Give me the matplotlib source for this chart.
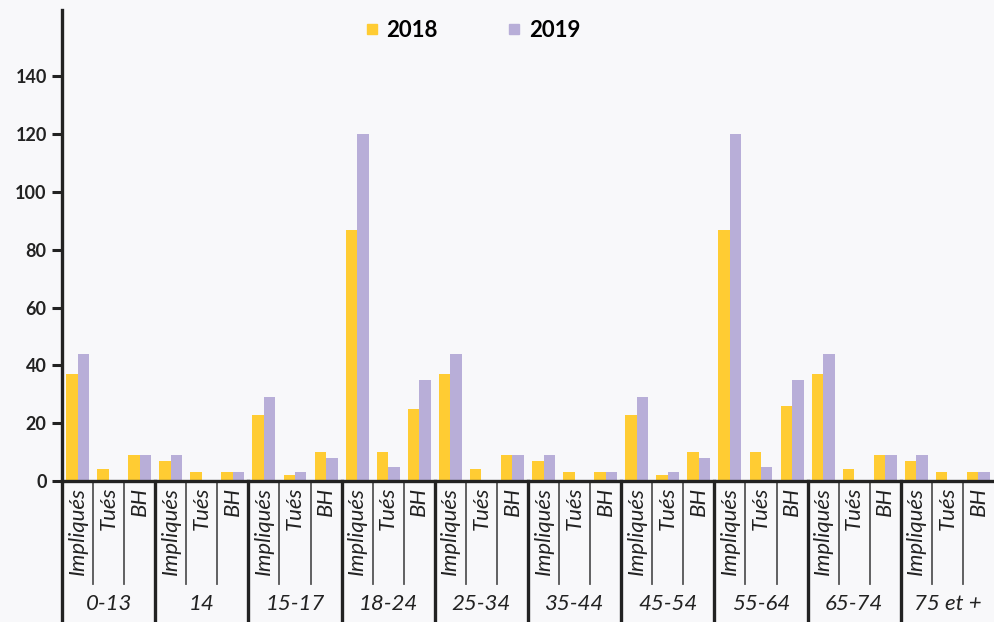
import numpy as np
import matplotlib.pyplot as plt
from matplotlib.lines import Line2D

# data
groups = ['0-13', '14', '15-17', '18-24', '25-34', '35-44', '45-54', '55-64', '65-74', '75 et +']
subcats = ['Impliqués', 'Tués', 'BH']
v2018 = [37, 4, 9,   7, 3, 3,   23, 2, 10,   87, 10, 25,   37, 4, 9,
         7, 3, 3,   23, 2, 10,   87, 10, 26,   37, 4, 9,   7, 3, 3]
v2019 = [44, 0, 9,   9, 0, 3,   29, 3, 8,   120, 5, 35,   44, 0, 9,
         9, 0, 3,   29, 3, 8,   120, 5, 35,   44, 0, 9,   9, 0, 3]
yticks = [0, 20, 40, 60, 80, 100, 120, 140]

c2018 = '#ffcc33'
c2019 = '#b8aed8'
bg = '#f8f8fa'
ink = '#222222'

fig = plt.figure(figsize=(9.94, 6.22), dpi=100, facecolor=bg)
ax = fig.add_axes([62 / 994, 141 / 622, 932 / 994, 471 / 622], facecolor=bg)

n = len(v2018)
x = np.arange(n)
w = 0.37
ax.bar(x - w / 2, v2018, w, color=c2018, zorder=2)
ax.bar(x + w / 2, v2019, w, color=c2019, zorder=2)

ax.set_xlim(-0.5, n - 0.5)
ax.set_ylim(0, 163)
ax.set_yticks(yticks)
ax.set_yticklabels([str(t) for t in yticks], fontsize=13, fontweight='bold',
                   color=ink, family='Lato')
ax.tick_params(axis='y', length=7, width=2.2, color=ink, pad=4)
ax.set_xticks([])

for s in ['top', 'right']:
    ax.spines[s].set_visible(False)
for s in ['left', 'bottom']:
    ax.spines[s].set_linewidth(2.4)
    ax.spines[s].set_color(ink)

trans = ax.get_xaxis_transform()
# category labels under the axis
for i in range(n):
    ax.text(i, -0.012, subcats[i % 3], transform=trans, rotation=90,
            ha='center', va='top', fontsize=16, style='italic', color=ink,
            family='Lato')

# separators between sub-categories and groups
for i in range(1, n):
    if i % 3 == 0:
        ax.add_line(Line2D([i - 0.5, i - 0.5], [0, -0.31], transform=trans,
                           color=ink, lw=2.4, clip_on=False))
    else:
        ax.add_line(Line2D([i - 0.5, i - 0.5], [0, -0.219], transform=trans,
                           color='#555555', lw=1.3, clip_on=False))
ax.add_line(Line2D([-0.5, -0.5], [0, -0.31], transform=trans,
                   color=ink, lw=2.4, clip_on=False))

# group labels
for g, name in enumerate(groups):
    ax.text(3 * g + 1, -0.262, name, transform=trans, ha='center', va='center',
            fontsize=16, style='italic', color=ink, family='Lato')

handles = [Line2D([], [], marker='s', ls='', color=c2018, markersize=7),
           Line2D([], [], marker='s', ls='', color=c2019, markersize=7)]
fig.legend(handles, ['2018', '2019'], loc='center', bbox_to_anchor=(0.476, 0.951),
           ncol=2, frameon=False, handlelength=0.5, handletextpad=0.4,
           columnspacing=3.2, prop={'family': 'Lato', 'weight': 'bold', 'size': 16})

fig.savefig('out.png', dpi=100, facecolor=bg)
